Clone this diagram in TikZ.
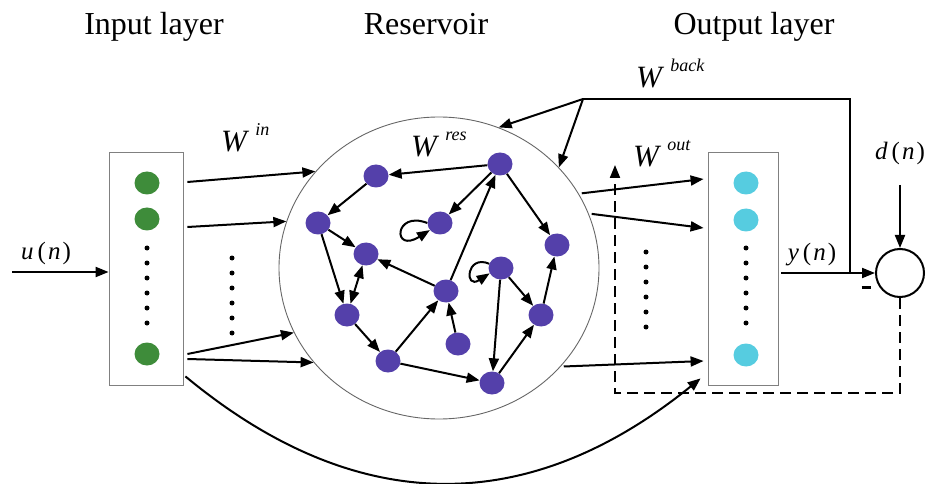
\documentclass[tikz,border=0pt]{standalone}
\usepackage{fontspec}
\setmainfont{Liberation Serif}
\usetikzlibrary{arrows.meta,shapes.geometric}
\definecolor{ingreen}{RGB}{62,140,58}
\definecolor{respurple}{RGB}{84,64,170}
\definecolor{outcyan}{RGB}{86,204,224}
\tikzset{
  neuron/.style={ellipse,minimum width=25pt,minimum height=23pt,inner sep=0pt},
  innode/.style={neuron,fill=ingreen},
  resnode/.style={neuron,fill=respurple},
  outnode/.style={neuron,fill=outcyan},
  layerbox/.style={draw=black!50,line width=0.8pt,inner sep=0pt,minimum height=233pt},
  wire/.style={line width=2pt,-{Triangle[length=13pt,width=10pt]}},
  title/.style={font=\fontsize{32}{36}\selectfont,anchor=base},
  sig/.style={font=\fontsize{25}{28}\selectfont,anchor=base},
  wlab/.style={font=\fontsize{31}{34}\selectfont,anchor=base west,inner sep=0pt},
}
\newcommand{\wlabel}[1]{\textit{W}\hspace{6pt}\raisebox{16pt}{\fontsize{18}{20}\selectfont\textit{#1}}}
\newcommand{\sigvar}[1]{\textit{#1}\hspace{4pt}(\hspace{2pt}\textit{n}\hspace{2pt})}
\begin{document}
\begin{tikzpicture}[x=1pt,y=-1pt]
\useasboundingbox (0,0) rectangle (930,484);
\node[title] (tin) at (154,35) {Input layer};
\node[title] (tres) at (426,35) {Reservoir};
\node[title] (tout) at (754,35) {Output layer};
\node[layerbox,minimum width=74pt] (inbox) at (146,268.5) {};
\node[layerbox,minimum width=70pt] (outbox) at (743,268.5) {};
\node[draw=black!60,line width=0.9pt,ellipse,inner sep=0pt,minimum width=320pt,minimum height=302pt] (res) at (439,268) {};
\node[innode] (g1) at (147,183) {};
\node[innode] (g2) at (147,219) {};
\node[innode] (g3) at (147,354) {};
\node[outnode] (c1) at (746,183) {};
\node[outnode] (c2) at (746,220) {};
\node[outnode] (c3) at (746,355) {};
\foreach \k in {0,...,5} {
  \fill (147,248+15*\k) circle (2.5pt);
  \fill (232,258+15*\k) circle (2.5pt);
  \fill (746,248+15*\k) circle (2.5pt);
  \fill (646,252+15*\k) circle (2.5pt);
}
% reservoir units
\node[resnode] (r1) at (376,176) {};
\node[resnode] (r2) at (500,164) {};
\node[resnode] (r3) at (318,223) {};
\node[resnode] (r4) at (440,223) {};
\node[resnode] (r5) at (557,245) {};
\node[resnode] (r6) at (366,254) {};
\node[resnode] (r7) at (501,268) {};
\node[resnode] (r8) at (446,291) {};
\node[resnode] (r9) at (347,315) {};
\node[resnode] (r10) at (541,315) {};
\node[resnode] (r11) at (458,344) {};
\node[resnode] (r12) at (388,361) {};
\node[resnode] (r13) at (492,383) {};
\draw[wire] (r2) -- (r1);
\draw[wire] (r1) -- (r3);
\draw[wire] (r3) -- (r6);
\draw[wire] (r3) -- (r9);
\draw[wire,{Triangle[length=13pt,width=10pt]}-{Triangle[length=13pt,width=10pt]}] (r9) -- (r6);
\draw[wire] (r2) -- (r4);
\draw[wire] (r2) -- (r5);
\draw[wire] (r8) -- (r6);
\draw[wire] (r8) -- (r2);
\draw[wire] (r11) -- (r8);
\draw[wire] (r12) -- (r8);
\draw[wire] (r9) -- (r12);
\draw[wire] (r12) -- (r13);
\draw[wire] (r7) -- (r13);
\draw[wire] (r7) -- (r10);
\draw[wire] (r13) -- (r10);
\draw[wire] (r10) -- (r5);
\draw[wire] (r4.180) .. controls (394,210) and (392,254) .. (r4.215);
\draw[wire] (r7.160) .. controls (466,254) and (464,290) .. (r7.205);
% input and output weights
\draw[wire] ([xshift=4pt,yshift=1pt]g1 -| inbox.east) -- (res.142);
\draw[wire] ([xshift=4pt,yshift=-8pt]g2 -| inbox.east) -- (res.163);
\draw[wire] ([xshift=4pt]g3 -| inbox.east) -- (res.204);
\draw[wire] ([xshift=4pt,yshift=-5pt]g3 -| inbox.east) -- (res.217);
\draw[wire,shorten <=3pt] (res.28) -- ([xshift=-4pt,yshift=4pt]c1 -| outbox.west);
\draw[wire,shorten <=3pt] (res.20) -- ([xshift=-4pt,yshift=-8pt]c2 -| outbox.west);
\draw[wire,shorten <=3pt] (res.-39) -- ([xshift=-4pt,yshift=-6pt]c3 -| outbox.west);
\draw[wire] ([xshift=2pt,yshift=9pt]inbox.south east) .. controls (355,517) and (527,519) .. ([xshift=-7pt,yshift=7pt]outbox.south west);
\node[wlab] (win) at (221,152) {\wlabel{in}};
\node[wlab] (wres) at (411,157) {\wlabel{res}};
\node[wlab] (wout) at (633,167) {\wlabel{out}};
\node[wlab] (wback) at (636,88) {\wlabel{back}};
% signals
\node[sig] (un) at (46,259) {\sigvar{u}};
\node[sig] (yn) at (812,260) {\sigvar{y}};
\node[sig] (dn) at (900,160) {\sigvar{d}};
\node[draw,line width=2pt,circle,minimum size=48pt,inner sep=0pt] (sum) at (900,273) {};
\node[inner sep=0pt] (minus) at (866,287) {\rule{9pt}{3pt}};
\coordinate (uin) at (12,272);
\draw[wire] (uin) -- (uin -| inbox.west);
\draw[wire] ([xshift=3pt]outbox.east |- sum.west) -- (sum.west);
\draw[wire] ([yshift=-25pt]dn.base) -- (sum.north);
\coordinate (fbtap) at ([xshift=-25pt]sum.west);
\coordinate (fbsplit) at (583,99);
\draw[line width=2pt] (fbtap) |- (fbsplit);
\draw[wire] (fbsplit) -- (res.67);
\draw[wire] (fbsplit) -- (res.40);
\coordinate (dcorner) at (615,393);
\coordinate (dtip) at (615,165);
\draw[wire,dash pattern=on 11pt off 6pt] (sum.south) |- (dcorner) -- (dtip);
\end{tikzpicture}
\end{document}
